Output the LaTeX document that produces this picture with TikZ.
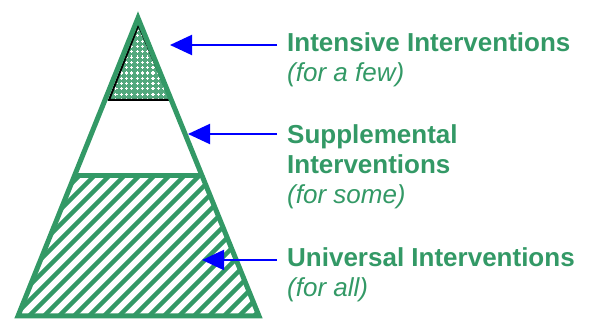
\documentclass[tikz,border=0pt]{standalone}
\usepackage{fontspec}
\setmainfont{Liberation Sans}
\usetikzlibrary{arrows.meta}
\definecolor{pgreen}{HTML}{339966}
\definecolor{pblue}{HTML}{0000FF}
\begin{document}
\begin{tikzpicture}[x=1pt,y=-1pt,
  title/.style={anchor=base west,inner sep=0,text=pgreen,font=\fontsize{26}{30}\selectfont\bfseries},
  sub/.style={anchor=base west,inner sep=0,text=pgreen,font=\fontsize{26}{30}\selectfont\itshape},
  pointer/.style={draw=pblue,line width=2pt,-{Triangle[length=22pt,width=20pt]}},
  hatch/.style={draw=pgreen,line width=4.5pt},
  frame/.style={draw=pgreen,line width=5pt,line join=miter},
  plus/.style={draw=white,line width=1.1pt}]
\useasboundingbox (0,0) rectangle (590,320);
% outer pyramid points
\coordinate (apex) at (138,18);
\coordinate (bl) at (18,316);
\coordinate (br) at (259,316);
\coordinate (ml) at (74.3,176);
\coordinate (mr) at (201.7,176);
% inner tip triangle
\coordinate (itop) at (138.5,25);
\coordinate (ibl) at (109,100);
\coordinate (ibr) at (170.5,100);
% hatched base
\begin{scope}
  \clip (ml) -- (mr) -- (br) -- (bl) -- cycle;
  \foreach \k in {-1,...,23} {
    \draw[hatch] ({255+15*\k},0) -- ++(-400,400);
  }
\end{scope}
% cross-hatched tip
\begin{scope}
  \clip (itop) -- (ibr) -- (ibl) -- cycle;
  \fill[pgreen!85] (100,20) rectangle (175,105);
  \foreach \i in {0,...,14} {
    \foreach \j in {0,...,16} {
      \draw[plus] ({100+5.3*\i-1.6},{20+5.3*\j}) -- ++(3.2,0);
      \draw[plus] ({100+5.3*\i},{20+5.3*\j-1.6}) -- ++(0,3.2);
    }
  }
\end{scope}
\draw[black,line width=2pt,line join=miter] (itop) -- (ibr) -- (ibl) -- cycle;
% pyramid outline and band line
\draw[frame] (apex) -- (br) -- (bl) -- cycle;
\draw[frame] (ml) -- (mr);
% labels
\node[title] (int1) at (287,52) {Intensive Interventions};
\node[sub]   (int2) at (287,82) {(for a few)};
\node[title] (sup1) at (287,144) {Supplemental};
\node[title] (sup2) at (287,174) {Interventions};
\node[sub]   (sup3) at (287,204) {(for some)};
\node[title] (uni1) at (287,267) {Universal Interventions};
\node[sub]   (uni2) at (287,297) {(for all)};
% arrows
\coordinate (a1s) at (277,45);
\coordinate (a1e) at (170,45);
\coordinate (a2s) at (277,134);
\coordinate (a2e) at (188,134);
\coordinate (a3s) at (277,260);
\coordinate (a3e) at (202,260);
\draw[pointer] (a1s) -- (a1e);
\draw[pointer] (a2s) -- (a2e);
\draw[pointer] (a3s) -- (a3e);
\end{tikzpicture}
\end{document}
